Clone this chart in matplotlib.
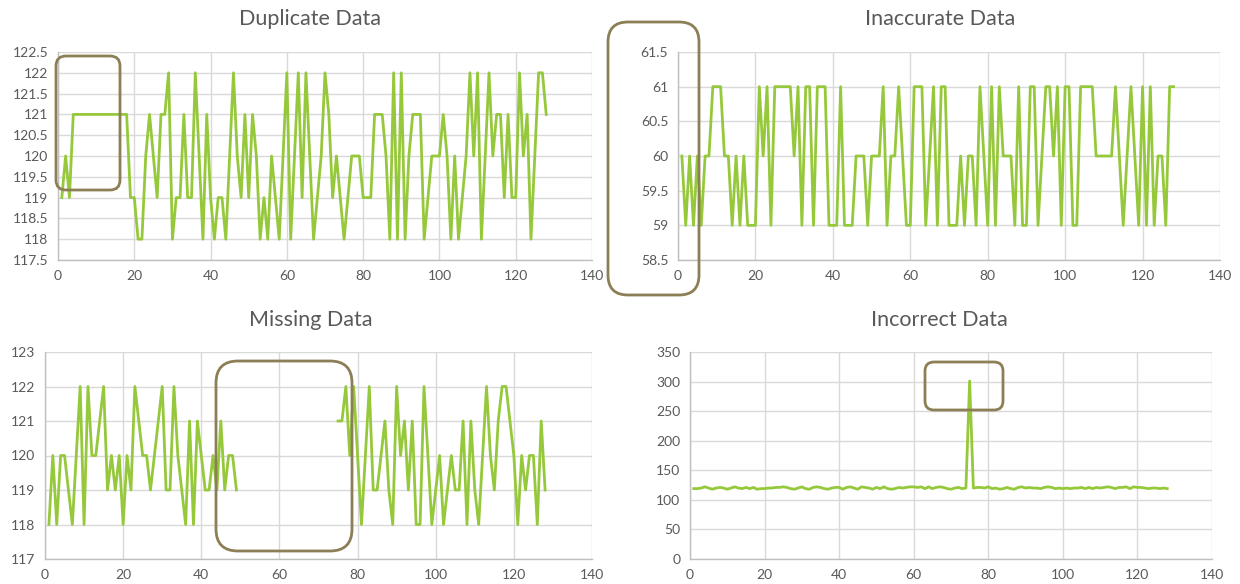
import numpy as np
import matplotlib
matplotlib.use("Agg")
from matplotlib import pyplot as plt
from matplotlib.patches import FancyBboxPatch
from matplotlib.transforms import IdentityTransform
from matplotlib.ticker import FuncFormatter

plt.rcParams['font.family'] = ['Lato', 'DejaVu Sans']

x = np.arange(1, 129)

duplicate = [119, 120, 119, 121, 121, 121, 121, 121, 121, 121, 121, 121, 121, 121, 121, 121,
             121, 121, 119, 119, 118, 118, 120, 121, 120, 119, 121, 121, 122, 118, 119, 119,
             121, 119, 119, 122, 120, 118, 121, 119, 118, 119, 119, 118, 120, 122, 120, 119,
             121, 119, 121, 120, 118, 119, 118, 120, 119, 118, 120, 122, 118, 120, 122, 119,
             122, 120, 118, 119, 120, 122, 121, 119, 120, 119, 118, 119, 120, 120, 120, 119,
             119, 119, 121, 121, 121, 120, 118, 122, 118, 122, 118, 120, 121, 121, 121, 118,
             119, 120, 120, 120, 121, 120, 118, 120, 118, 119, 120, 122, 120, 122, 118, 120,
             122, 120, 121, 121, 119, 121, 119, 119, 122, 120, 121, 118, 120, 122, 122, 121]

inaccurate = [60, 59, 60, 59, 60, 59, 60, 60, 61, 61, 61, 60, 60, 59, 60, 59,
              60, 59, 59, 59, 61, 60, 61, 59, 61, 61, 61, 61, 61, 60, 61, 59,
              61, 61, 59, 61, 61, 61, 59, 59, 59, 61, 59, 59, 59, 60, 60, 60,
              59, 60, 60, 60, 61, 59, 60, 60, 61, 60, 59, 59, 61, 61, 61, 59,
              60, 61, 59, 61, 61, 59, 59, 59, 60, 59, 60, 60, 59, 61, 60, 59,
              61, 59, 61, 60, 60, 60, 59, 61, 59, 59, 61, 61, 59, 60, 61, 61,
              60, 61, 59, 61, 61, 59, 59, 61, 61, 61, 61, 60, 60, 60, 60, 60,
              61, 60, 59, 60, 61, 60, 59, 61, 59, 61, 59, 60, 60, 59, 61, 61]

nan = np.nan
missing = [118, 120, 118, 120, 120, 119, 118, 120, 122, 118, 122, 120, 120, 121, 122, 119,
           120, 119, 120, 118, 120, 119, 122, 121, 120, 120, 119, 120, 121, 122, 119, 119,
           122, 120, 119, 118, 121, 118, 121, 120, 119, 119, 120, 119, 121, 119, 120, 120,
           119, nan, nan, nan, nan, nan, nan, nan, nan, nan, nan, nan, nan, nan, nan, nan,
           nan, nan, nan, nan, nan, nan, nan, nan, nan, nan, 121, 121, 122, 120, 122, 120,
           118, 120, 122, 119, 119, 120, 121, 119, 118, 122, 120, 121, 119, 121, 118, 118,
           122, 120, 118, 119, 120, 118, 119, 120, 119, 119, 121, 118, 121, 119, 118, 120,
           122, 120, 119, 121, 122, 122, 121, 120, 118, 120, 119, 120, 120, 118, 121, 119]

incorrect = [119, 119, 120, 122, 120, 118, 120, 121, 120, 118, 120, 122, 120, 119, 121, 119,
             121, 118, 119, 119, 120, 120, 121, 121, 122, 121, 119, 118, 120, 122, 119, 118,
             121, 122, 121, 119, 118, 120, 121, 121, 118, 121, 122, 120, 118, 122, 121, 120,
             118, 121, 119, 122, 119, 118, 119, 121, 120, 121, 122, 122, 121, 122, 119, 122,
             119, 121, 122, 121, 119, 118, 120, 121, 119, 120, 301, 120, 121, 121, 120, 122,
             119, 120, 118, 119, 121, 119, 118, 121, 122, 120, 121, 120, 120, 119, 121, 122,
             121, 119, 120, 119, 120, 119, 120, 120, 121, 119, 121, 119, 121, 120, 121, 122,
             121, 119, 121, 121, 122, 119, 122, 121, 121, 120, 119, 120, 120, 119, 120, 119]

titles = ["Duplicate Data", "Inaccurate Data", "Missing Data", "Incorrect Data"]

W, H = 1240, 584
line_c = '#96C83C'
box_c = '#8C7E55'
grid_c = '#D9D9D9'
text_c = '#595959'

fig = plt.figure(figsize=(W / 100, H / 100), dpi=100)


def px_axes(l, t, r, b):
    return fig.add_axes([l / W, 1 - b / H, (r - l) / W, (b - t) / H])


def style(ax, ylim, ystep):
    ax.set_xlim(0, 140)
    ax.set_xticks(np.arange(0, 141, 20))
    ax.set_ylim(*ylim)
    ax.set_yticks(np.arange(ylim[0], ylim[1] + ystep / 2, ystep))
    ax.yaxis.set_major_formatter(FuncFormatter(lambda v, pos: '%g' % v))
    ax.grid(True, color=grid_c, lw=1)
    ax.set_axisbelow(True)
    for s in ['top', 'right']:
        ax.spines[s].set_visible(False)
    for s in ['left', 'bottom']:
        ax.spines[s].set_color('#BFBFBF')
        ax.spines[s].set_linewidth(1)
    ax.tick_params(length=0, labelsize=10, labelcolor=text_c, pad=7)


panels = [
    (px_axes(58, 52, 592, 260), duplicate, (117.5, 122.5), 0.5, titles[0], 310, 19),
    (px_axes(678, 52, 1220, 260), inaccurate, (58.5, 61.5), 0.5, titles[1], 940, 19),
    (px_axes(45, 352, 592, 559), missing, (117, 123), 1, titles[2], 311, 320),
    (px_axes(690, 352, 1212, 559), incorrect, (0, 350), 50, titles[3], 939, 320),
]

for ax, vals, yl, st, t, tx, ty in panels:
    style(ax, yl, st)
    ax.plot(x, vals, color=line_c, lw=2, solid_joinstyle='round', clip_on=False)
    fig.text(tx / W, 1 - ty / H, t, ha='center', va='center', fontsize=15.5,
             color=text_c)

# highlight boxes, in pixel coords (left, top, right, bottom, radius)
boxes = [(56, 56, 120, 190, 10), (608, 22, 699, 295, 20),
         (216, 361, 352, 551, 22), (925, 362, 1003, 410, 9)]
for l, t, r, b, rad in boxes:
    p = FancyBboxPatch((l + rad, H - b + rad), (r - l) - 2 * rad, (b - t) - 2 * rad,
                       boxstyle='round,pad=%d,rounding_size=%d' % (rad, rad),
                       transform=IdentityTransform(), fill=False, ec=box_c, lw=2,
                       zorder=10)
    fig.patches.append(p)

fig.savefig('out.png', dpi=100)
